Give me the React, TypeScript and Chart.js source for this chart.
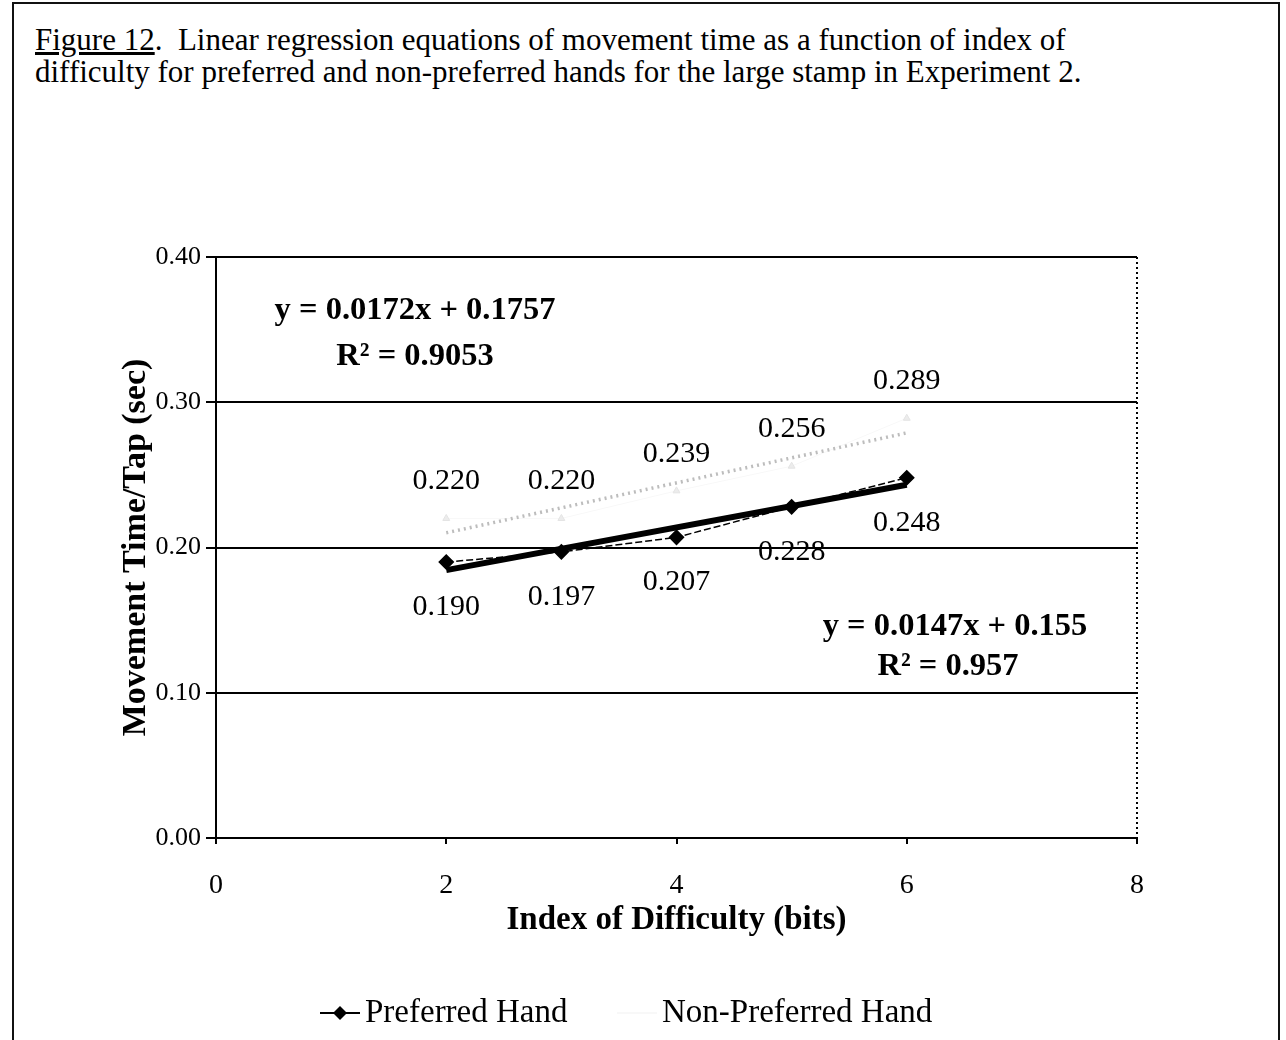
import React, { useEffect, useRef } from "react";
import { Chart, registerables } from "chart.js";

Chart.register(...registerables);

// ---- data ----
const xValues = [2, 3, 4, 5, 6];
const preferredHand = [0.19, 0.197, 0.207, 0.228, 0.248];
const nonPreferredHand = [0.22, 0.22, 0.239, 0.256, 0.289];
const preferredLabels = ["0.190", "0.197", "0.207", "0.228", "0.248"];
const nonPreferredLabels = ["0.220", "0.220", "0.239", "0.256", "0.289"];
const seriesNames = ["Preferred Hand", "Non-Preferred Hand"];
const preferredFit = [0.0147, 0.155]; // slope, intercept
const nonPreferredFit = [0.0172, 0.1757];
const fitRange = [2, 6];
const preferredEquation = ["y = 0.0147x + 0.155", "R² = 0.957"];
const nonPreferredEquation = ["y = 0.0172x + 0.1757", "R² = 0.9053"];
const xTickValues = [0, 2, 4, 6, 8];
const yTickValues = [0, 0.1, 0.2, 0.3, 0.4];
const xAxisTitle = "Index of Difficulty (bits)";
const yAxisTitle = "Movement Time/Tap (sec)";

const SERIF = '"Liberation Serif", "Times New Roman", serif';

const fitLine = (fit: number[]) => fitRange.map((x) => ({ x, y: fit[0] * x + fit[1] }));

const overlayPlugin = {
  id: "overlay",
  afterDraw(chart: any) {
    const ctx = chart.ctx;
    const area = chart.chartArea;
    ctx.save();
    // dotted right border of plot area
    ctx.strokeStyle = "#000";
    ctx.lineWidth = 2;
    ctx.setLineDash([2, 3]);
    ctx.beginPath();
    ctx.moveTo(area.right, area.top);
    ctx.lineTo(area.right, area.bottom);
    ctx.stroke();
    ctx.setLineDash([]);

    // data labels
    ctx.fillStyle = "#000";
    ctx.font = `30px ${SERIF}`;
    ctx.textAlign = "center";
    ctx.textBaseline = "middle";
    const m0 = chart.getDatasetMeta(0);
    m0.data.forEach((pt: any, i: number) => {
      ctx.fillText(preferredLabels[i], pt.x, pt.y + 45);
    });
    const m1 = chart.getDatasetMeta(1);
    m1.data.forEach((pt: any, i: number) => {
      ctx.fillText(nonPreferredLabels[i], pt.x, pt.y - 37);
    });

    // equations
    ctx.font = `bold 32.5px ${SERIF}`;
    ctx.fillText(nonPreferredEquation[0], 415, 311);
    ctx.fillText(nonPreferredEquation[1], 415, 357);
    ctx.fillText(preferredEquation[0], 955, 627);
    ctx.fillText(preferredEquation[1], 948, 667);

    // legend
    const ly = 1013;
    const items = [
      { ds: chart.data.datasets[0], x0: 320 },
      { ds: chart.data.datasets[1], x0: 617 },
    ];
    items.forEach(({ ds, x0 }) => {
      ctx.strokeStyle = ds.borderColor;
      ctx.lineWidth = 2;
      ctx.beginPath();
      ctx.moveTo(x0, ly);
      ctx.lineTo(x0 + 40, ly);
      ctx.stroke();
      ctx.fillStyle = ds.pointBackgroundColor;
      const r = 7;
      const cx = x0 + 20;
      if (ds.pointStyle === "rectRot") {
        ctx.beginPath();
        ctx.moveTo(cx, ly - r);
        ctx.lineTo(cx + r, ly);
        ctx.lineTo(cx, ly + r);
        ctx.lineTo(cx - r, ly);
        ctx.closePath();
        ctx.fill();
      }
      ctx.fillStyle = "#000";
      ctx.font = `33px ${SERIF}`;
      ctx.textAlign = "left";
      ctx.fillText(ds.label, x0 + 45, ly);
    });
    ctx.restore();
  },
};

export default function App() {
  const canvasRef = useRef<HTMLCanvasElement | null>(null);

  useEffect(() => {
    if (!canvasRef.current) return;
    const chart = new Chart(canvasRef.current, {
      type: "line",
      data: {
        datasets: [
          {
            label: seriesNames[0],
            data: xValues.map((x, i) => ({ x, y: preferredHand[i] })),
            borderColor: "#000",
            borderWidth: 1.5,
            borderDash: [7, 3],
            pointStyle: "rectRot",
            pointRadius: 7,
            pointBackgroundColor: "#000",
            pointBorderColor: "#000",
            order: 0,
          },
          {
            label: seriesNames[1],
            data: xValues.map((x, i) => ({ x, y: nonPreferredHand[i] })),
            borderColor: "#f8f8f8",
            borderWidth: 1,
            pointStyle: "triangle",
            pointRadius: 4,
            pointBackgroundColor: "#ececec",
            pointBorderColor: "#e4e4e4",
            order: 3,
          },
          {
            label: "Preferred trend",
            data: fitLine(preferredFit),
            borderColor: "#000",
            borderWidth: 6,
            pointRadius: 0,
            order: 1,
          },
          {
            label: "Non-Preferred trend",
            data: fitLine(nonPreferredFit),
            borderColor: "#bdbdbd",
            borderWidth: 3.5,
            borderDash: [2, 4],
            pointRadius: 0,
            order: 2,
          },
        ],
      },
      options: {
        animation: false,
        responsive: false,
        maintainAspectRatio: false,
        layout: { padding: { left: 114, right: 149, top: 257, bottom: 0 } },
        plugins: {
          legend: { display: false },
          tooltip: { enabled: false },
        },
        scales: {
          x: {
            type: "linear",
            min: 0,
            max: 8,
            afterBuildTicks: (scale: any) => {
              scale.ticks = xTickValues.map((v) => ({ value: v }));
            },
            afterFit: (scale: any) => {
              scale.height = 202;
            },
            grid: { drawOnChartArea: false, drawTicks: true, tickLength: 6, color: "#000", lineWidth: 2 },
            border: { display: true, color: "#000", width: 2 },
            ticks: { color: "#000", font: { family: SERIF, size: 28 }, padding: 25 },
            title: {
              display: true,
              text: xAxisTitle,
              color: "#000",
              font: { family: SERIF, size: 33, weight: "bold" },
              padding: { top: 0, bottom: 100 },
            },
          },
          y: {
            type: "linear",
            min: 0,
            max: 0.4,
            afterBuildTicks: (scale: any) => {
              scale.ticks = yTickValues.map((v) => ({ value: v }));
            },
            afterFit: (scale: any) => {
              scale.width = 102;
            },
            grid: { color: "#000", lineWidth: 2, drawTicks: true, tickLength: 10 },
            border: { display: true, color: "#000", width: 2 },
            ticks: {
              color: "#000",
              font: { family: SERIF, size: 26 },
              padding: 5,
              callback: (v: any) => Number(v).toFixed(2),
            },
            title: {
              display: true,
              text: yAxisTitle,
              color: "#000",
              font: { family: SERIF, size: 34, weight: "bold" },
              padding: { top: 2, bottom: 0 },
            },
          },
        },
      },
      plugins: [overlayPlugin],
    } as any);
    return () => chart.destroy();
  }, []);

  return (
    <div style={{ position: "absolute", left: 0, top: 0, width: 1286, height: 1040, overflow: "hidden", background: "#fff" }}>
      <div
        style={{
          position: "absolute",
          left: 12,
          top: 2,
          width: 1264,
          height: 1100,
          borderLeft: "2px solid #111",
          borderTop: "2px solid #111",
          borderRight: "2px solid #111",
        }}
      />
      <div
        style={{
          position: "absolute",
          left: 35,
          top: 24,
          fontFamily: SERIF,
          fontSize: 31,
          lineHeight: "32px",
          color: "#000",
          whiteSpace: "nowrap",
        }}
      >
        <span style={{ textDecoration: "underline" }}>Figure 12</span>.&nbsp; Linear regression equations of movement time as a function of index of
        <br />
        difficulty for preferred and non-preferred hands for the large stamp in Experiment 2.
      </div>
      <canvas ref={canvasRef} width={1286} height={1040} style={{ position: "absolute", left: 0, top: 0 }} />
    </div>
  );
}
